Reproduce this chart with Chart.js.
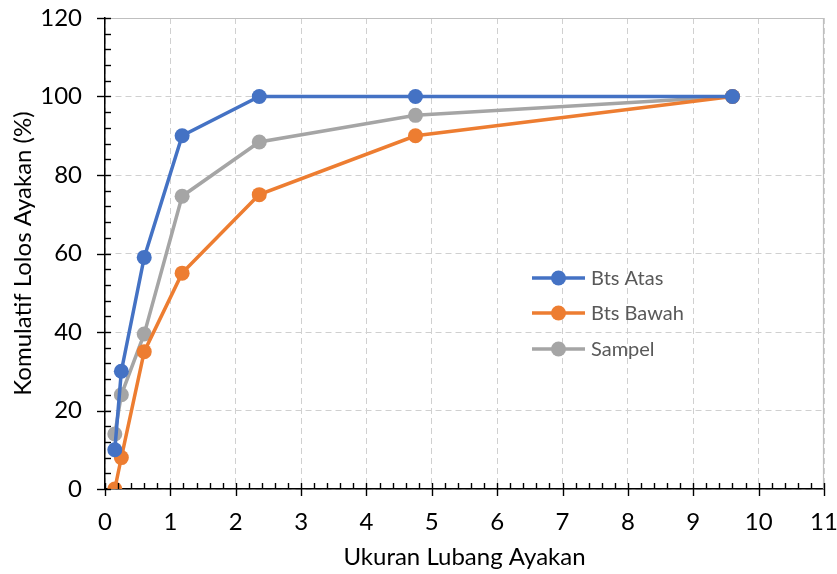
<!DOCTYPE html>
<html>
<head>
<meta charset="utf-8">
<script src="https://cdn.jsdelivr.net/npm/chart.js@4.4.1/dist/chart.umd.min.js"></script>
<style>
  html, body { margin: 0; padding: 0; background: #fff; }
  #wrap { width: 837px; height: 574px; }
</style>
</head>
<body>
<div id="wrap"><canvas id="myChart" width="837" height="574"></canvas></div>
<script>
// ukuran ayakan (mm)
const sieveSizes = [0.15, 0.25, 0.6, 1.18, 2.36, 4.75, 9.6];
const btsAtas = [10, 30, 59, 90, 100, 100, 100];
const btsBawah = [0, 8, 35, 55, 75, 90, 100];
const sampel = [14, 24, 39.5, 74.6, 88.4, 95.2, 100];

const seriesNames = ["Bts Atas", "Bts Bawah", "Sampel"];
const seriesColors = ["#4472C4", "#ED7D31", "#A5A5A5"];

const fontFam = "Lato, 'Open Sans', sans-serif";

function toPoints(vals) {
  return sieveSizes.map((x, i) => ({ x: x, y: vals[i] }));
}

function makeSet(name, vals, color) {
  return {
    label: name,
    data: toPoints(vals),
    borderColor: color,
    backgroundColor: color,
    borderWidth: 3.5,
    pointRadius: 7.5,
    pointHoverRadius: 7.5,
    pointBorderWidth: 0,
    tension: 0,
  };
}

function noOverflow(s) {
  s.paddingTop = 0;
  s.paddingBottom = 0;
  s.paddingLeft = 0;
  s.paddingRight = 0;
}

// plot frame (top/right), minor ticks and legend
const extras = {
  id: "extras",
  beforeDatasetsDraw(chart) {
    const c = chart.ctx, a = chart.chartArea;
    c.save();
    c.strokeStyle = "#bfbfbf";
    c.lineWidth = 1.2;
    c.beginPath();
    c.moveTo(a.left, a.top + 0.5);
    c.lineTo(a.right - 0.5, a.top + 0.5);
    c.lineTo(a.right - 0.5, a.bottom);
    c.stroke();
    c.restore();
  },
  afterDatasetsDraw(chart) {
    const c = chart.ctx;
    const xs = chart.scales.x, ys = chart.scales.y;
    const area = chart.chartArea;
    c.save();
    c.strokeStyle = "#000";
    c.lineWidth = 1.4;
    // x ticks
    for (let v = 0; v <= 11.001; v += 0.2) {
      const px = Math.round(xs.getPixelForValue(v)) + 0.5;
      const major = Math.abs(v - Math.round(v)) < 0.01;
      c.beginPath();
      c.moveTo(px, area.bottom - 6);
      c.lineTo(px, major ? area.bottom + 7 : area.bottom);
      c.stroke();
    }
    // y ticks
    for (let v = 0; v <= 120.001; v += 4) {
      const py = Math.round(ys.getPixelForValue(v)) + 0.5;
      const major = Math.round(v) % 20 === 0;
      c.beginPath();
      c.moveTo(major ? area.left - 8 : area.left, py);
      c.lineTo(area.left + 6, py);
      c.stroke();
    }
    // legend
    const lx = 532, ly = [278, 313, 349];
    c.font = "20px " + fontFam;
    c.textBaseline = "middle";
    c.textAlign = "left";
    chart.data.datasets.forEach((ds, i) => {
      c.strokeStyle = ds.borderColor;
      c.fillStyle = ds.borderColor;
      c.lineWidth = 3.5;
      c.beginPath();
      c.moveTo(lx, ly[i]);
      c.lineTo(lx + 53, ly[i]);
      c.stroke();
      c.beginPath();
      c.arc(lx + 26.5, ly[i], 7.5, 0, Math.PI * 2);
      c.fill();
      c.fillStyle = "#595959";
      c.fillText(ds.label, lx + 59, ly[i] + 1);
    });
    c.restore();
  }
};

const ctx = document.getElementById("myChart");
new Chart(ctx, {
  type: "line",
  data: {
    datasets: [
      makeSet(seriesNames[0], btsAtas, seriesColors[0]),
      makeSet(seriesNames[1], btsBawah, seriesColors[1]),
      makeSet(seriesNames[2], sampel, seriesColors[2]),
    ],
  },
  options: {
    responsive: false,
    animation: false,
    layout: { padding: { top: 18, right: 13, left: 0, bottom: 0 } },
    plugins: {
      legend: { display: false },
      tooltip: { enabled: false },
    },
    scales: {
      x: {
        type: "linear",
        min: 0,
        max: 11,
        afterFit: (s) => { s.height = 85; noOverflow(s); },
        ticks: {
          stepSize: 1,
          padding: 19,
          color: "#000",
          font: { family: fontFam, size: 24 },
        },
        grid: {
          color: "#d0d0d0",
          lineWidth: 1,
          drawTicks: false,
        },
        border: { display: true, color: "#000", width: 1.5, dash: [6, 4] },
        title: {
          display: true,
          text: "Ukuran Lubang Ayakan",
          color: "#000",
          font: { family: fontFam, size: 24 },
          padding: { top: 0, bottom: 2 },
        },
      },
      y: {
        min: 0,
        max: 120,
        afterFit: (s) => { s.width = 105; noOverflow(s); },
        ticks: {
          stepSize: 20,
          padding: 23,
          color: "#000",
          font: { family: fontFam, size: 24 },
        },
        grid: {
          color: "#d0d0d0",
          lineWidth: 1,
          drawTicks: false,
        },
        border: { display: true, color: "#000", width: 1.5, dash: [6, 4] },
        title: {
          display: true,
          text: "Komulatif Lolos Ayakan (%)",
          color: "#000",
          font: { family: fontFam, size: 24 },
          padding: { top: 9, bottom: 0 },
        },
      },
    },
  },
  plugins: [extras],
});
</script>
</body>
</html>
